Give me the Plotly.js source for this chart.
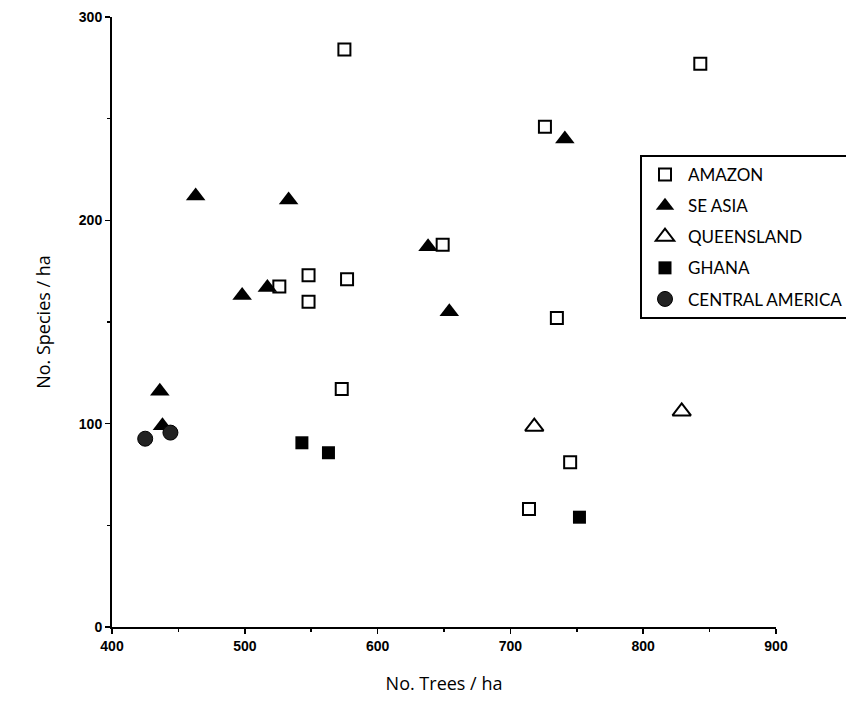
<!DOCTYPE html>
<html>
<head>
<meta charset="utf-8">
<script src="https://cdn.plot.ly/plotly-3.0.1.min.js"></script>
<style>body{margin:0;padding:0;background:#fff;} #chart{width:846px;height:719px;}</style>
</head>
<body>
<div id="chart"></div>
<script>
// Data
const amazonTrees   = [575, 843, 726, 649, 548, 577, 526, 548, 735, 573, 745, 714];
const amazonSpecies = [284, 277, 246, 188, 173, 171, 167.5, 160, 152, 117, 81, 58];

const seAsiaTrees   = [463, 533, 741, 638, 517, 498, 654, 436, 438];
const seAsiaSpecies = [212, 210, 240, 187, 167, 163, 155, 116, 99];

const queenslandTrees   = [718, 829];
const queenslandSpecies = [98.5, 106];

const ghanaTrees   = [543, 563, 752];
const ghanaSpecies = [90.6, 85.7, 54];

const centralTrees   = [425, 444];
const centralSpecies = [92.6, 95.6];

const seriesNames = ["AMAZON", "SE ASIA", "QUEENSLAND", "GHANA", "CENTRAL AMERICA"];
const xTickVals = [400, 500, 600, 700, 800, 900];
const yTickVals = [0, 100, 200, 300];

const legendFont = {family: "Lato, 'DejaVu Sans', sans-serif", size: 17, color: "#000"};

const traces = [
  {x: amazonTrees, y: amazonSpecies, name: seriesNames[0], legendgroup: "a",
   mode: "markers", type: "scatter",
   marker: {symbol: "square-open", size: 12, color: "#000", line: {width: 2, color: "#000"}}},
  {x: seAsiaTrees, y: seAsiaSpecies, name: seriesNames[1], legendgroup: "b",
   mode: "markers", type: "scatter",
   marker: {symbol: "triangle-up", size: 17, color: "#000", line: {width: 0}}},
  {x: queenslandTrees, y: queenslandSpecies, name: seriesNames[2], legendgroup: "c",
   mode: "markers", type: "scatter",
   marker: {symbol: "triangle-up-open", size: 16, color: "#000", line: {width: 2, color: "#000"}}},
  {x: ghanaTrees, y: ghanaSpecies, name: seriesNames[3], legendgroup: "d",
   mode: "markers", type: "scatter",
   marker: {symbol: "square", size: 13, color: "#000", line: {width: 0}}},
  {x: centralTrees, y: centralSpecies, name: seriesNames[4], legendgroup: "e",
   mode: "markers", type: "scatter",
   marker: {symbol: "circle", size: 15, color: "#222", line: {width: 1, color: "#000"}}}
];

const layout = {
  width: 846, height: 719,
  paper_bgcolor: "#fff", plot_bgcolor: "#fff",
  margin: {l: 112, r: 70, t: 17, b: 92, autoexpand: false},
  showlegend: true,
  legend: {
    x: (640 - 112) / 664, xanchor: "left",
    y: (627 - 155) / 610, yanchor: "top",
    bgcolor: "#fff", bordercolor: "#000", borderwidth: 2,
    font: legendFont, tracegroupgap: 6,
    itemwidth: 36
  },
  xaxis: {
    range: [400, 900], tickvals: xTickVals, ticktext: xTickVals.map(String),
    showgrid: false, zeroline: false, showline: true, linecolor: "#000", linewidth: 2,
    ticks: "outside", ticklen: 5, tickwidth: 1.5, tickcolor: "#000",
    minor: {dtick: 50, ticks: "outside", ticklen: 3, tickcolor: "#000", showgrid: false},
    tickfont: {family: "'Liberation Sans', Arial, sans-serif", size: 14, color: "#000", weight: "bold"},
    title: {text: "No. Trees / ha", standoff: 25,
            font: {family: "'Open Sans', 'DejaVu Sans', sans-serif", size: 18, color: "#000"}}
  },
  yaxis: {
    range: [0, 300], tickvals: yTickVals, ticktext: yTickVals.map(String),
    showgrid: false, zeroline: false, showline: true, linecolor: "#000", linewidth: 2,
    ticks: "outside", ticklen: 5, tickwidth: 1.5, tickcolor: "#000",
    minor: {dtick: 50, ticks: "outside", ticklen: 3, tickcolor: "#000", showgrid: false},
    tickfont: {family: "'Liberation Sans', Arial, sans-serif", size: 14, color: "#000", weight: "bold"},
    title: {text: "No. Species / ha", standoff: 24,
            font: {family: "'Open Sans', 'DejaVu Sans', sans-serif", size: 18, color: "#000"}}
  }
};

Plotly.newPlot("chart", traces, layout, {displayModeBar: false, staticPlot: true});
</script>
</body>
</html>
